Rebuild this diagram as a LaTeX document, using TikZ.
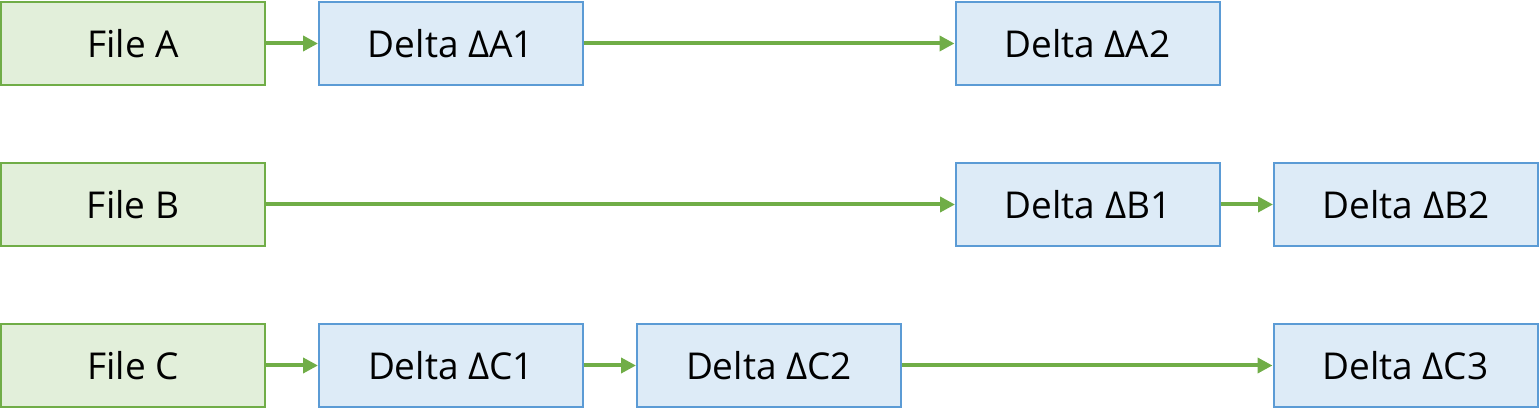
\documentclass[tikz,border=0pt]{standalone}
\usepackage{fontspec}
\setmainfont{Open Sans}
\usetikzlibrary{positioning, arrows.meta}
\definecolor{filegreen}{HTML}{70AD47}
\definecolor{filefill}{HTML}{E2EFDA}
\definecolor{deltablue}{HTML}{5B9BD5}
\definecolor{deltafill}{HTML}{DDEBF7}

\begin{document}
\begin{tikzpicture}[box/.style={rectangle,
      draw,
      line width=1pt,
      minimum width=132pt,
      minimum height=41.5pt,
      inner sep=0pt,
      font=\fontsize{18.5}{21}\selectfont,
      text centered},
    file/.style={box, draw=filegreen, fill=filefill},
    delta/.style={box, draw=deltablue, fill=deltafill},
    link/.style={draw=filegreen, line width=2pt,
      -{Triangle[length=7.5pt, width=7.5pt]}}]
  \useasboundingbox (0,0) rectangle (770pt,-205pt);

  % FILES

  \node[file, anchor=north west] (fileA) at (0,-0.5pt) {File A};

  \node[file, below=38pt of fileA] (fileB) {File B};

  \node[file, below=38pt of fileB] (fileC) {File C};

  % DELTAS

  \node[delta, right=26pt of fileA] (deltaA1) {Delta ΔA1};

  \node[delta, right=185.25pt of deltaA1] (deltaA2) {Delta ΔA2};

  \node[delta, right=344.5pt of fileB] (deltaB1) {Delta ΔB1};

  \node[delta, right=26pt of deltaB1] (deltaB2) {Delta ΔB2};

  \node[delta, right=26pt of fileC] (deltaC1) {Delta ΔC1};

  \node[delta, right=26pt of deltaC1] (deltaC2) {Delta ΔC2};

  \node[delta, right=185.25pt of deltaC2] (deltaC3) {Delta ΔC3};

  % LINKS

  \draw[link] (fileA) -- (deltaA1);
  \draw[link] (deltaA1) -- (deltaA2);
  \draw[link] (fileB) -- (deltaB1);
  \draw[link] (deltaB1) -- (deltaB2);
  \draw[link] (fileC) -- (deltaC1);
  \draw[link] (deltaC1) -- (deltaC2);
  \draw[link] (deltaC2) -- (deltaC3);

\end{tikzpicture}
\end{document}
